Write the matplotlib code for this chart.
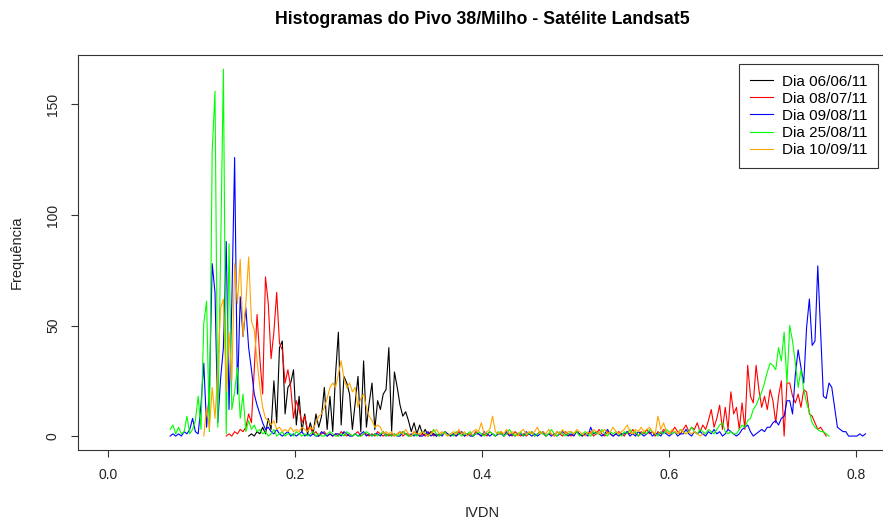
import numpy as np
import matplotlib
matplotlib.use('Agg')
from matplotlib import pyplot as plt

plt.rcParams['font.family'] = ['Liberation Sans', 'DejaVu Sans']

# largura das classes do histograma (IVDN)
passo = 0.003

# Dia 06/06/11 (preto)
inicio_0606 = 0.150
freq_0606 = [0, 1, 0, 2, 1, 4, 1, 8, 3, 25,
             6, 40, 43, 10, 22, 24, 30, 5, 18, 2,
             10, 1, 6, 1, 10, 4, 9, 22, 3, 18,
             2, 28, 47, 5, 27, 24, 19, 3, 15, 27,
             2, 34, 4, 15, 24, 3, 16, 12, 19, 21,
             40, 2, 29, 22, 14, 9, 11, 7, 2, 6,
             1, 5, 1, 3, 0, 2, 1, 0]

# Dia 08/07/11 (vermelho)
inicio_0807 = 0.126
freq_0807 = [0, 1, 0, 2, 1, 3, 2, 4, 10, 6,
             30, 55, 35, 19, 72, 60, 35, 47, 65, 42,
             39, 24, 30, 22, 8, 16, 12, 6, 9, 3,
             4, 1, 2, 0, 1, 2, 0, 1, 0, 1,
             0, 2, 1, 0, 1, 0, 1, 2, 0, 1,
             1, 0, 1, 0, 2, 1, 0, 1, 0, 1,
             0, 1, 2, 0, 1, 1, 0, 2, 1, 0,
             1, 0, 1, 2, 0, 1, 0, 1, 2, 1,
             0, 1, 0, 2, 1, 0, 1, 1, 0, 2,
             1, 0, 1, 0, 2, 1, 0, 1, 2, 0,
             1, 1, 0, 2, 1, 0, 1, 0, 1, 2,
             0, 1, 2, 1, 0, 1, 1, 0, 2, 1,
             0, 2, 1, 0, 1, 2, 1, 0, 1, 1,
             2, 0, 1, 3, 1, 0, 2, 1, 0, 1,
             2, 1, 0, 2, 1, 3, 1, 0, 2, 1,
             3, 1, 2, 0, 2, 1, 3, 2, 1, 2,
             4, 2, 1, 3, 5, 2, 4, 3, 6, 2,
             5, 3, 7, 12, 4, 8, 14, 3, 13, 3,
             20, 10, 13, 3, 15, 3, 32, 18, 15, 32,
             21, 13, 18, 12, 21, 16, 6, 18, 25, 0,
             24, 24, 18, 15, 19, 13, 21, 20, 10, 9,
             6, 3, 4, 2, 0]

# Dia 09/08/11 (azul)
inicio_0908 = 0.066
freq_0908 = [0, 1, 0, 1, 0, 2, 1, 3, 8, 2,
             1, 14, 33, 4, 20, 78, 65, 6, 26, 40,
             88, 12, 60, 126, 19, 63, 45, 58, 40, 30,
             19, 14, 10, 6, 3, 4, 2, 1, 3, 1,
             0, 1, 2, 0, 1, 0, 1, 2, 0, 1,
             0, 1, 0, 0, 2, 1, 0, 1, 0, 1,
             1, 0, 2, 1, 0, 0, 1, 0, 1, 2,
             0, 1, 0, 1, 1, 0, 2, 0, 1, 0,
             1, 0, 0, 2, 1, 0, 1, 0, 1, 0,
             0, 1, 2, 0, 1, 0, 1, 0, 2, 1,
             0, 1, 0, 1, 2, 0, 1, 0, 0, 1,
             1, 0, 2, 1, 0, 1, 0, 1, 1, 0,
             2, 0, 1, 0, 1, 1, 0, 2, 1, 0,
             1, 0, 1, 2, 0, 1, 0, 1, 0, 1,
             2, 1, 0, 1, 0, 2, 1, 0, 1, 0,
             4, 1, 2, 1, 0, 1, 3, 1, 0, 1,
             0, 1, 1, 2, 0, 1, 0, 2, 1, 0,
             1, 2, 0, 1, 1, 0, 2, 1, 0, 1,
             2, 0, 1, 1, 3, 1, 0, 2, 1, 2,
             1, 0, 2, 1, 3, 1, 2, 0, 1, 3,
             2, 1, 0, 1, 3, 4, 5, 2, 0, 1,
             2, 3, 2, 4, 4, 6, 7, 5, 8, 9,
             16, 16, 10, 28, 39, 31, 24, 49, 62, 41,
             43, 77, 48, 18, 17, 24, 22, 13, 4, 3,
             2, 2, 0, 0, 0, 0, 1, 0, 1]

# Dia 25/08/11 (verde)
inicio_2508 = 0.066
freq_2508 = [3, 5, 1, 4, 1, 2, 9, 1, 3, 7,
             18, 3, 51, 61, 2, 129, 156, 4, 83, 166,
             1, 87, 12, 20, 31, 8, 19, 2, 7, 3,
             5, 2, 3, 1, 2, 0, 1, 3, 0, 1,
             2, 0, 1, 1, 0, 2, 1, 0, 1, 0,
             1, 2, 0, 1, 0, 0, 1, 2, 1, 0,
             0, 1, 0, 2, 1, 0, 1, 0, 0, 1,
             2, 1, 0, 1, 0, 1, 2, 0, 1, 0,
             1, 0, 1, 2, 1, 0, 0, 1, 0, 1,
             2, 1, 0, 1, 3, 1, 0, 1, 2, 0,
             1, 0, 2, 1, 0, 1, 1, 2, 0, 1,
             2, 1, 0, 1, 2, 1, 0, 2, 1, 0,
             1, 3, 1, 0, 1, 2, 0, 1, 1, 2,
             0, 1, 2, 1, 0, 1, 3, 1, 0, 2,
             1, 0, 1, 2, 1, 2, 0, 1, 2, 1,
             0, 2, 1, 1, 3, 1, 0, 2, 1, 2,
             1, 0, 2, 1, 3, 1, 2, 0, 1, 2,
             1, 3, 2, 1, 0, 2, 1, 3, 2, 1,
             2, 1, 3, 2, 1, 2, 4, 2, 1, 3,
             2, 1, 3, 2, 1, 3, 5, 6, 2, 1,
             2, 1, 1, 3, 5, 4, 7, 8, 12, 14,
             17, 20, 24, 29, 33, 32, 30, 40, 34, 47,
             24, 50, 43, 33, 22, 30, 21, 15, 11, 6,
             4, 3, 2, 2, 1, 0]

# Dia 10/09/11 (laranja)
inicio_1009 = 0.102
freq_1009 = [0, 13, 3, 22, 8, 30, 58, 62,
             20, 47, 25, 78, 60, 80, 45, 60, 81, 52,
             48, 34, 22, 13, 8, 7, 5, 7, 3, 4,
             2, 3, 2, 4, 2, 3, 2, 4, 3, 2,
             4, 3, 6, 9, 10, 13, 17, 22, 24, 22,
             28, 34, 26, 22, 24, 20, 22, 13, 17, 19,
             13, 9, 7, 4, 5, 4, 1, 2, 1, 2,
             0, 1, 2, 1, 3, 1, 0, 2, 1, 1,
             2, 1, 0, 1, 2, 3, 1, 2, 1, 0,
             1, 2, 1, 3, 1, 2, 0, 1, 2, 3,
             2, 6, 1, 2, 3, 9, 2, 1, 2, 1,
             3, 1, 2, 1, 0, 2, 3, 1, 2, 1,
             2, 4, 1, 2, 1, 3, 1, 0, 2, 1,
             3, 1, 2, 2, 1, 3, 2, 1, 0, 2,
             1, 3, 2, 1, 2, 3, 1, 2, 4, 2,
             1, 2, 3, 5, 2, 1, 3, 2, 4, 2,
             3, 4, 2, 1, 9, 3, 6, 2, 1, 3,
             2, 1, 3, 2, 1, 2, 1, 2, 1, 0,
             1]

series = [
    (freq_0606, inicio_0606, 'black', 'Dia 06/06/11'),
    (freq_0807, inicio_0807, '#FF0000', 'Dia 08/07/11'),
    (freq_0908, inicio_0908, '#0000FF', 'Dia 09/08/11'),
    (freq_2508, inicio_2508, '#00FF00', 'Dia 25/08/11'),
    (freq_1009, inicio_1009, '#FFA500', 'Dia 10/09/11'),
]

W, H = 883, 521
fig = plt.figure(figsize=(W / 100, H / 100), dpi=100)
ax = fig.add_axes([78 / W, 71 / H, 808 / W, 395.5 / H])

for freq, inicio, cor, rotulo in series:
    x = inicio + passo * np.arange(len(freq))
    ax.plot(x, freq, color=cor, lw=0.8, label=rotulo)

ax.set_xlim(-0.0326, 0.832)
ax.set_ylim(-6.3, 172.6)
ax.set_xticks([0.0, 0.2, 0.4, 0.6, 0.8])
ax.set_xticklabels(['0.0', '0.2', '0.4', '0.6', '0.8'])
ax.set_yticks([0, 50, 100, 150])
ax.tick_params(direction='out', length=5, width=0.8, labelsize=10, pad=8,
               color='#333333', labelcolor='#222222')
ax.tick_params(axis='y', labelrotation=90)
for lab in ax.get_yticklabels():
    lab.set_va('center')
for s in ax.spines.values():
    s.set_color('#333333')
    s.set_linewidth(0.8)

fig.text(482 / W, 1 - 20 / H, 'Histogramas do Pivo 38/Milho - Satélite Landsat5',
         ha='center', va='center', fontsize=12.8, fontweight='bold')
fig.text(482 / W, 1 - 513 / H, 'IVDN', ha='center', va='center', fontsize=10.5, color='#222222')
fig.text(17 / W, 1 - 252 / H, 'Frequência', ha='center', va='center', rotation=90,
         fontsize=10.5, color='#222222')

leg = ax.legend(loc='upper right', bbox_to_anchor=(878 / W, 1 - 64 / H),
                bbox_transform=fig.transFigure, fancybox=False, framealpha=1,
                edgecolor='#333333', fontsize=11, handlelength=1.5,
                handletextpad=0.6, labelspacing=0.2, borderpad=0.7, borderaxespad=0)
leg.get_frame().set_linewidth(0.8)

fig.savefig('out.png', dpi=100)
